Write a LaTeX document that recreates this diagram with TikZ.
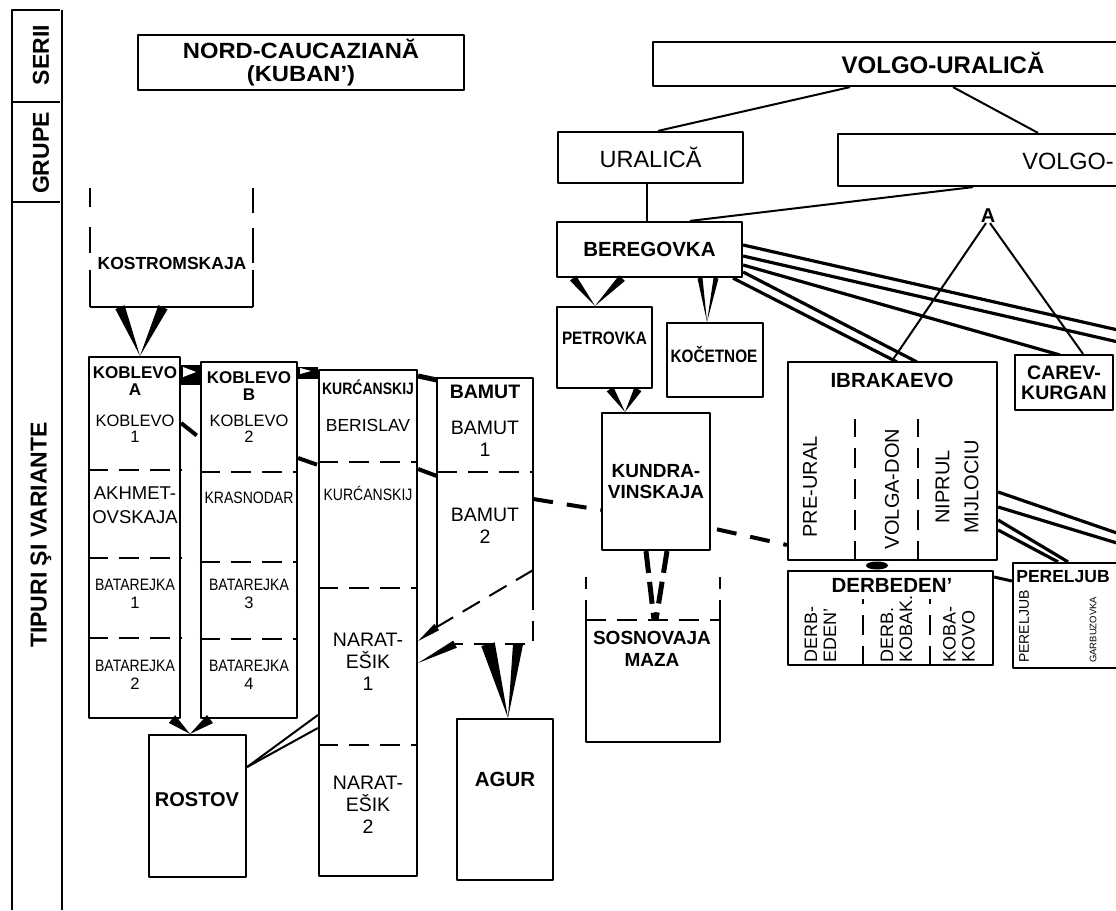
\documentclass[tikz,border=0pt]{standalone}
\usepackage{fontspec}
\usepackage{graphicx}
\setmainfont{Liberation Sans}
\usetikzlibrary{calc}

\newcommand\fs[2]{\fontsize{#1}{#2}\selectfont}
\newcommand\narrow[1]{\scalebox{0.85}[1]{#1}}
% tapered connector: base point, tip point, half width
\newcommand\taper[3]{%
  \path (#1) coordinate (ta) (#2) coordinate (tb);
  \fill ($(ta)!#3!90:(tb)$) -- ($(ta)!#3!-90:(tb)$) -- (tb) -- cycle;}

\tikzset{
  boxline/.style={line width=2.2pt},
  box/.style={draw, boxline, fill=white, inner sep=0pt, align=center},
  zone/.style={inner sep=0pt},
  cell/.style={inner sep=0pt, align=center},
  divider/.style={line width=2pt, dash pattern=on 20pt off 11pt},
  thread/.style={line width=4pt, dash pattern=on 20pt off 14pt},
  link/.style={line width=2pt},
  fan/.style={line width=3.2pt},
  vert/.style={rotate=90, inner sep=0pt, align=left, anchor=west},
}

\begin{document}
\begin{tikzpicture}[x=1pt, y=-1pt, line join=round]
    \useasboundingbox (0,0) rectangle (1116,910);

    % header column
    \draw[boxline] (12,910) -- (12,10) -- (60,10);
    \draw[boxline] (62,10) -- (62,910);
    \draw[boxline] (12,102) -- (60,102);
    \draw[boxline] (12,202) -- (60,202);
    \node[rotate=90, font=\bfseries\fs{23}{24}] (serii) at (41,55) {SERII};
    \node[rotate=90, font=\bfseries\fs{23}{24}] (grupe) at (41,153) {GRUPE};
    \node[rotate=90, font=\bfseries\fs{23}{24}] (tipuri) at (41,535) {TIPURI ŞI VARIANTE};

    % series
    \node[box, minimum width=326pt, minimum height=55pt, font=\bfseries\fs{22}{22.5}] (nord) at (301,62.5) {\scalebox{1.08}[1]{NORD-CAUCAZIANĂ}\\\scalebox{1.08}[1]{(KUBAN')}};
    \node[box, minimum width=490pt, minimum height=44pt] (vu) at (898,64) {};
    \node[cell, font=\bfseries\fs{24}{24}] (vuT) at (943,63) {VOLGO-URALICĂ};

    % groups
    \node[box, minimum width=185pt, minimum height=51pt, font=\fs{23.5}{24}] (ural) at (650.5,157.5) {URALICĂ};
    \node[box, minimum width=302pt, minimum height=52pt] (volgo) at (989,160) {};
    \node[cell, font=\fs{23.5}{24}, anchor=east] (volgoT) at (1114,161) {VOLGO-};

    \draw[link] (vu.south -| 850,0) -- (ural.north -| 658,0);
    \draw[link] (vu.south -| 953,0) -- (volgo.north -| 1038,0);

    % volgo-ural types
    \node[box, minimum width=185pt, minimum height=55pt, font=\bfseries\fs{20.5}{22}] (bereg) at (649.5,249.5) {BEREGOVKA};
    \draw[link] (ural.south -| 647,0) -- (bereg.north -| 647,0);
    \draw[link] (volgo.south -| 973,0) -- (bereg.north -| 690,0);

    \node[box, minimum width=95pt, minimum height=81pt] (petr) at (604.5,347.5) {};
    \node[cell, font=\bfseries\fs{18}{17}] (petrT) at (604.5,338) {\narrow{PETROVKA}};
    \node[box, minimum width=96pt, minimum height=74pt] (koc) at (715,360) {};
    \node[cell, font=\bfseries\fs{18}{17}] (kocT) at (714,355) {\narrow{KOČETNOE}};
    \node[box, minimum width=108pt, minimum height=137pt, font=\bfseries\fs{19}{21}] (kund) at (656,481.5) {KUNDRA-\\VINSKAJA};

    \node[zone, minimum width=134pt, minimum height=122pt] (sosn) at (653,681) {};
    \draw[boxline] (sosn.north west) -- (sosn.south west) -- (sosn.south east) -- (sosn.north east);
    \draw[divider] (sosn.north west) -- (sosn.north east);
    \draw[divider] (sosn.north west) -- ++(0,-43);
    \draw[divider] (sosn.north east) -- ++(0,-43);
    \node[cell, font=\bfseries\fs{19}{22}] (sosnT) at (652,649) {SOSNOVAJA\\MAZA};

    % fan from beregovka
    \coordinate (out1) at (1140,335);
    \coordinate (out2) at (1140,347);
    \coordinate (out3) at (1140,541);
    \coordinate (out4) at (1140,550);
    \draw[fan] (bereg.east |- 0,245) -- (out1);
    \draw[fan] (bereg.east |- 0,256) -- (out2);
    \draw[fan] (bereg.east |- 0,265) -- (1060,355);
    \draw[fan] (bereg.east |- 0,272) -- (917,362);
    \draw[fan] (bereg.south -| 733,0) -- (897,362);

    \node[box, minimum width=209pt, minimum height=198pt] (ibr) at (892.5,461) {};
    \node[cell, font=\bfseries\fs{20.5}{22}] (ibrT) at (892,380) {IBRAKAEVO};
    \draw[divider] (ibr.south -| 855,0) -- ++(0,-142);
    \draw[divider] (ibr.south -| 918,0) -- ++(0,-142);
    \node[rotate=90, inner sep=0pt, font=\fs{20}{22}] (preural) at (810,487) {PRE-URAL};
    \node[rotate=90, inner sep=0pt, font=\fs{20}{22}] (volgadon) at (892,489) {VOLGA-DON};
    \node[rotate=90, inner sep=0pt, align=center, font=\fs{20}{29}] (niprul) at (957,487) {NIPRUL\\MIJLOCIU};

    \node[box, minimum width=98pt, minimum height=55pt, font=\bfseries\fs{19.5}{20}] (carev) at (1064,382.5) {CAREV-\\KURGAN};

    \node[cell, font=\bfseries\fs{20}{20}] (alab) at (988,216) {A};
    \draw[link] ([xshift=-2pt]alab.south) -- (ibr.north -| 892,0);
    \draw[link] ([xshift=2pt]alab.south) -- (carev.north -| 1083,0);

    \node[box, minimum width=205pt, minimum height=94pt] (derb) at (890.5,618) {};
    \node[cell, font=\bfseries\fs{20.5}{22}] (derbT) at (892,585) {DERBEDEN'};
    \draw[divider] (derb.south -| 863,0) -- ++(0,-67);
    \draw[divider] (derb.south -| 930,0) -- ++(0,-67);
    \node[vert, font=\fs{18}{19}] (derb1) at (820.5,663) {DERB-\\EDEN'};
    \node[vert, font=\fs{18}{19}] (derb2) at (896.5,663) {DERB.\\KOBAK.};
    \node[vert, font=\fs{18}{19}] (derb3) at (959,663) {KOBA-\\KOVO};

    \node[box, minimum width=127pt, minimum height=105pt] (perel) at (1076.5,615.5) {};
    \node[cell, font=\bfseries\fs{17.5}{18}] (perelT) at (1063,577) {PERELJUB};
    \node[vert, font=\fs{14}{16}] (perel1) at (1024,663) {PERELJUB};
    \node[vert, font=\fs{9.5}{11}] (perel2) at (1093,663) {GARBUZOVKA};

    \draw[fan] (ibr.east |- 0,492) -- (out3);
    \draw[fan] (ibr.east |- 0,507) -- (out4);
    \draw[fan] (ibr.east |- 0,520) -- (perel.north -| 1068,0);
    \draw[fan] (ibr.east |- 0,530) -- (perel.north -| 1058,0);
    \draw[line width=3pt] (derb.east |- 0,577) -- (perel.west |- 0,581);
    \fill ($(ibr.south -| 877,0)!.5!(derb.north -| 877,0)$) ellipse (11pt and 4pt);

    % nord-caucaziana types
    \node[zone, minimum width=163pt, minimum height=119pt] (kost) at (171.5,247.5) {};
    \draw[boxline, dash pattern=on 19pt off 20pt on 26pt off 17pt on 40pt] (kost.north west) -- (kost.south west);
    \draw[boxline, dash pattern=on 25pt off 15pt on 35pt off 7pt on 40pt] (kost.north east) -- (kost.south east);
    \draw[boxline] (kost.south west) -- (kost.south east);
    \node[cell, font=\bfseries\fs{17.5}{19}] (kostT) at (172,263) {KOSTROMSKAJA};

    \node[box, minimum width=91pt, minimum height=361pt] (kobA) at (134.5,537.5) {};
    \node[box, minimum width=96pt, minimum height=356pt] (kobB) at (249,540) {};
    \node[box, minimum width=98pt, minimum height=506pt] (kurc) at (368,623) {};
    \node[zone, minimum width=96pt, minimum height=266pt] (bam) at (485,511) {};
    \node[box, minimum width=97pt, minimum height=142pt] (rost) at (197.5,806) {};
    \node[box, minimum width=96pt, minimum height=161pt] (agur) at (505,799.5) {};

    \draw[divider] (kobA.west |- 0,470) -- (kobA.east |- 0,470);
    \draw[divider] (kobA.west |- 0,558) -- (kobA.east |- 0,558);
    \draw[divider] (kobA.west |- 0,638) -- (kobA.east |- 0,638);
    \draw[divider] (kobB.west |- 0,472) -- (kobB.east |- 0,472);
    \draw[divider] (kobB.west |- 0,562) -- (kobB.east |- 0,562);
    \draw[divider] (kobB.west |- 0,639) -- (kobB.east |- 0,639);
    \draw[divider] (kurc.west |- 0,462) -- (kurc.east |- 0,462);
    \draw[divider] (kurc.west |- 0,588) -- (kurc.east |- 0,588);
    \draw[divider] (kurc.west |- 0,745) -- (kurc.east |- 0,745);

    \draw[boxline] (bam.west |- 0,627) -- (bam.north west) -- (bam.north east) -- (bam.east |- 0,590);
    \draw[divider] (bam.east |- 0,590) -- (bam.south east) -- (bam.south -| 455,0);
    \draw[divider] (bam.east |- 0,570) -- (bam.west |- 0,627);
    \draw[divider] (bam.west |- 0,472) -- (bam.east |- 0,472);

    \node[cell, font=\bfseries\fs{17}{17}] (kobAh) at (135,381) {KOBLEVO\\A};
    \node[cell, font=\fs{16.5}{16}] (kobA1) at (135,429) {KOBLEVO\\1};
    \node[cell, font=\fs{18.5}{24}] (kobA2) at (135,505) {AKHMET-\\OVSKAJA};
    \node[cell, font=\fs{16.5}{18}] (kobA3) at (135,594) {\narrow{BATAREJKA}\\1};
    \node[cell, font=\fs{16.5}{18}] (kobA4) at (135,675) {\narrow{BATAREJKA}\\2};

    \node[cell, font=\bfseries\fs{17}{17}] (kobBh) at (249,386) {KOBLEVO\\B};
    \node[cell, font=\fs{16.5}{16}] (kobB1) at (249,429) {KOBLEVO\\2};
    \node[cell, font=\fs{16.5}{18}] (kobB2) at (249,498) {\narrow{KRASNODAR}};
    \node[cell, font=\fs{16.5}{18}] (kobB3) at (249,594) {\narrow{BATAREJKA}\\3};
    \node[cell, font=\fs{16.5}{18}] (kobB4) at (249,675) {\narrow{BATAREJKA}\\4};

    \node[cell, font=\bfseries\fs{16.5}{16}] (kurch) at (368,387) {\narrow{KURĆANSKIJ}};
    \node[cell, font=\fs{17.5}{18}] (kurc1) at (368,425) {BERISLAV};
    \node[cell, font=\fs{16.5}{16}] (kurc2) at (368,493) {\narrow{KURĆANSKIJ}};
    \node[cell, font=\fs{19.5}{22}] (kurc3) at (368,662) {NARAT-\\EŠIK\\1};
    \node[cell, font=\fs{19.5}{22}] (kurc4) at (368,805) {NARAT-\\EŠIK\\2};

    \node[cell, font=\bfseries\fs{19.5}{22}] (bamh) at (485,392) {BAMUT};
    \node[cell, font=\fs{19.5}{22}] (bam1) at (485,439) {BAMUT\\1};
    \node[cell, font=\fs{19.5}{22}] (bam2) at (485,526) {BAMUT\\2};

    \node[cell, font=\bfseries\fs{20}{20}] (rostT) at (197,800) {ROSTOV};
    \node[cell, font=\bfseries\fs{20.5}{22}] (agurT) at (505,779) {AGUR};

    % derivations
    \taper{kost.south -| 120,0}{kobA.north -| 140,0}{5pt}
    \taper{kost.south -| 163,0}{kobA.north -| 140,0}{5pt}
    \taper{bereg.south -| 573,0}{petr.north -| 595,0}{4pt}
    \taper{bereg.south -| 622,0}{petr.north -| 595,0}{4pt}
    \taper{bereg.south -| 700,0}{koc.north -| 707,0}{2.5pt}
    \taper{bereg.south -| 716,0}{koc.north -| 707,0}{2.5pt}
    \taper{petr.south -| 610,0}{kund.north -| 625,0}{4pt}
    \taper{petr.south -| 638,0}{kund.north -| 625,0}{4pt}
    \draw[line width=5pt, dash pattern=on 22pt off 9pt] (kund.south -| 646,0) -- (sosn.north -| 654,0);
    \draw[line width=5pt, dash pattern=on 22pt off 9pt] (kund.south -| 667,0) -- (sosn.north -| 656,0);
    \taper{kobA.south -| 172,0}{rost.north -| 190,0}{5pt}
    \taper{kobB.south -| 210,0}{rost.north -| 190,0}{5pt}
    \taper{bam.south -| 488,0}{agur.north -| 508,0}{7pt}
    \taper{bam.south -| 518,0}{agur.north -| 508,0}{5pt}
    \taper{bam.west |- 0,627}{kurc.east |- 0,641}{4pt}
    \taper{bam.south -| 455,0}{kurc.east |- 0,663}{4pt}
    \draw[link] (rost.east |- 0,767) -- (kurc.west |- 0,715);
    \draw[link] (rost.east |- 0,767) -- (kurc.west |- 0,728);

    \fill (kobA.east |- 0,365) rectangle (kobB.west |- 0,385);
    \fill[white] ($(kobA.east |- 0,367)+(2,0)$) -- ++(13,5) -- ++(-13,5) -- cycle;
    \fill (kobB.east |- 0,367) rectangle (kurc.west |- 0,379);
    \fill[white] ($(kobB.east |- 0,368)+(2,0)$) -- ++(11,3) -- ++(-11,3) -- cycle;
    \draw[line width=5pt] (kurc.east |- 0,376) -- (bam.west |- 0,380);

    \draw[thread] (kobA.east |- 0,423) -- (kobB.west |- 0,438);
    \draw[thread] (kobB.east |- 0,458) -- (kurc.west |- 0,465);
    \draw[thread] (kurc.east |- 0,469) -- (bam.west |- 0,476);
    \draw[thread] (bam.east |- 0,499) -- (kund.west |- 0,510);
    \draw[thread, dash phase=28pt] (kund.east |- 0,528) -- (ibr.west |- 0,545);
\end{tikzpicture}
\end{document}
